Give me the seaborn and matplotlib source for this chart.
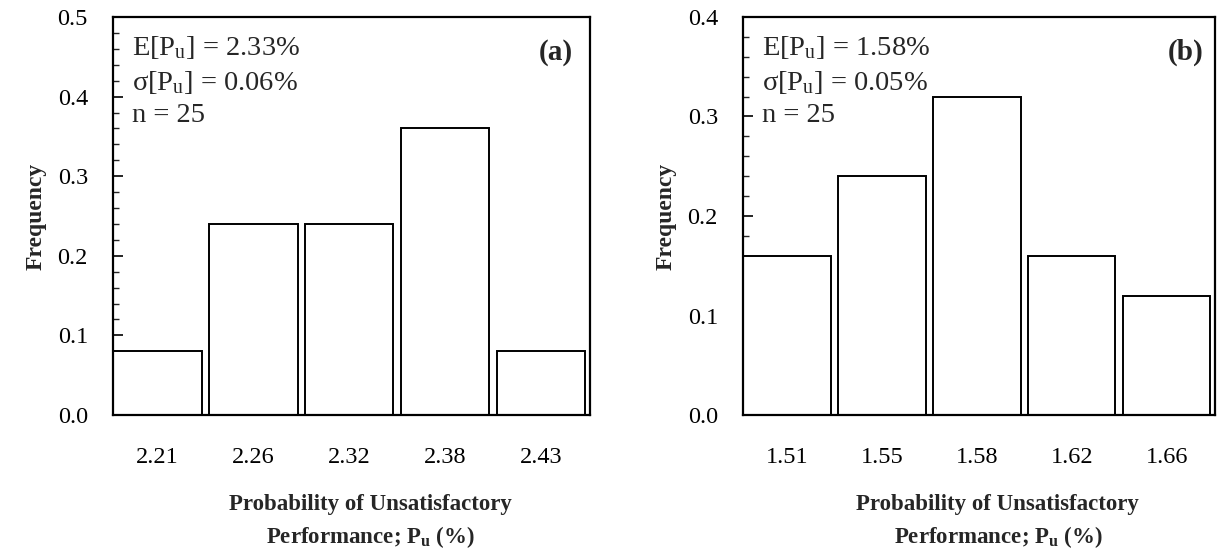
import matplotlib
matplotlib.use("Agg")
import matplotlib.pyplot as plt
import seaborn as sns
import pandas as pd
from matplotlib.ticker import MultipleLocator

sns.set_theme(style="white")
plt.rcParams['font.family'] = ['Liberation Serif', 'DejaVu Serif']
plt.rcParams['mathtext.fontset'] = 'custom'
plt.rcParams['mathtext.rm'] = 'Liberation Serif'
plt.rcParams['mathtext.it'] = 'Liberation Serif:italic'
plt.rcParams['mathtext.bf'] = 'Liberation Serif:bold'

cats_a = ["2.21", "2.26", "2.32", "2.38", "2.43"]
freq_a = [0.08, 0.24, 0.24, 0.36, 0.08]
cats_b = ["1.51", "1.55", "1.58", "1.62", "1.66"]
freq_b = [0.16, 0.24, 0.32, 0.16, 0.12]

stats_a = ["E[P$_\\mathrm{u}$] = 2.33%", "\u03c3[P$_\\mathrm{u}$] = 0.06%", "n = 25"]
stats_b = ["E[P$_\\mathrm{u}$] = 1.58%", "\u03c3[P$_\\mathrm{u}$] = 0.05%", "n = 25"]
tags = ["(a)", "(b)"]
ymax = [0.5, 0.4]
xlabel_lines = ["Probability of Unsatisfactory", "Performance; P$_\\mathbf{u}$ (%)"]

W, H = 1221, 554
fig = plt.figure(figsize=(W / 100, H / 100), dpi=100)

def px_axes(x0, x1, y0, y1):
    return fig.add_axes([x0 / W, (H - y1) / H, (x1 - x0) / W, (y1 - y0) / H])

axA = px_axes(113, 590, 17, 415)
axB = px_axes(743, 1215, 17, 415)

panels = [
    (axA, cats_a, freq_a, stats_a, tags[0], ymax[0], 0.040, 0.964),
    (axB, cats_b, freq_b, stats_b, tags[1], ymax[1], 0.040, 0.975),
]
text_y = [0.923, 0.835, 0.753]

for ax, cats, freq, stats, tag, ym, tx, tagx in panels:
    df = pd.DataFrame({"cat": cats, "freq": freq})
    sns.barplot(data=df, x="cat", y="freq", order=cats, color="white",
                edgecolor="black", linewidth=1.4, width=0.92, ax=ax,
                saturation=1)
    ax.set_xlim(-0.465, len(cats) - 0.49)
    ax.set_ylim(0, ym)
    ax.yaxis.set_major_locator(MultipleLocator(0.1))
    ax.yaxis.set_minor_locator(MultipleLocator(0.02))
    ax.set_yticklabels([f"{v:.1f}" for v in ax.get_yticks()])
    ax.tick_params(axis='y', which='major', direction='in', length=7, width=1.2,
                   left=True, right=False, labelsize=17.5, pad=18, colors='black')
    ax.tick_params(axis='y', which='minor', direction='in', length=4, width=1.0,
                   left=True, right=False)
    ax.tick_params(axis='x', length=0, labelsize=17.5, pad=23, colors='black')
    for s in ax.spines.values():
        s.set_visible(True)
        s.set_color('black')
        s.set_linewidth(1.6)
    ax.set_ylabel("Frequency", fontsize=17, fontweight='bold', labelpad=8)
    ax.set_xlabel(xlabel_lines[0], fontsize=16.5, fontweight='bold')
    ax.xaxis.set_label_coords(0.54, -0.226)
    ax.xaxis.label.set_va('center')
    ax.text(0.54, -0.307, xlabel_lines[1], transform=ax.transAxes, fontsize=16.5,
            fontweight='bold', ha='center', va='center')
    for s, ty in zip(stats, text_y):
        ax.text(tx, ty, s, transform=ax.transAxes, fontsize=20.5, va='center', ha='left')
    ax.text(tagx, 0.912, tag, transform=ax.transAxes, fontsize=21,
            fontweight='bold', va='center', ha='right')

fig.savefig("out.png", dpi=100, facecolor='white')
